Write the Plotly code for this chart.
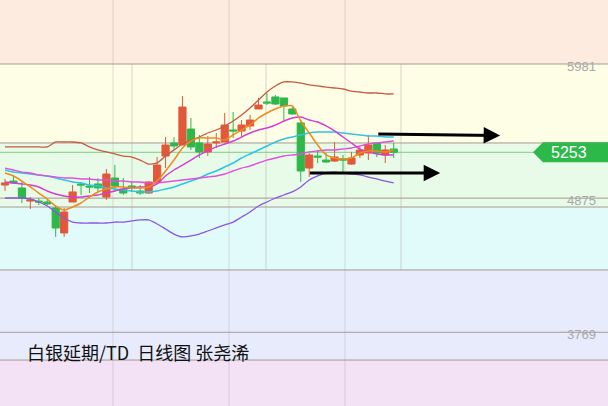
import plotly.graph_objects as go

# ---------------- data (daily candles, 白银延期/TD) ----------------
idx = list(range(47))
open_ = [4983, 5016, 4959, 4851, 4851, 4843, 4794, 4588, 4843, 4992, 4975, 4992, 4884, 5041, 4950, 4975, 4934, 4917, 5008, 5222,
         5330, 5313, 5445, 5330, 5256, 5330, 5338, 5437, 5429, 5470, 5610, 5668, 5709, 5701, 5610, 5495, 5123, 5222, 5189, 5181,
         5198, 5156, 5231, 5247, 5330, 5231, 5280]
high = [5033, 5066, 5008, 4884, 4876, 4868, 4818, 4794, 4983, 5008, 5049, 5041, 5115, 5148, 5041, 5008, 4983, 5016, 5214, 5379,
        5379, 5717, 5536, 5396, 5387, 5412, 5577, 5585, 5519, 5561, 5701, 5742, 5725, 5701, 5626, 5519, 5247, 5272, 5247, 5338,
        5231, 5256, 5297, 5396, 5338, 5313, 5330]
low = [4934, 4992, 4835, 4786, 4818, 4818, 4555, 4555, 4843, 4901, 4917, 4926, 4860, 4926, 4901, 4926, 4901, 4909, 5000, 5123,
       5272, 5313, 5272, 5206, 5222, 5288, 5338, 5371, 5379, 5437, 5610, 5643, 5643, 5519, 5561, 5008, 5049, 5165, 5165, 5173,
       5082, 5148, 5206, 5189, 5214, 5165, 5206]
close = [5000, 5000, 4876, 4860, 4843, 4827, 4629, 4761, 4926, 4983, 4967, 4959, 5074, 4975, 4917, 4967, 4917, 5008, 5148, 5313,
         5305, 5626, 5297, 5256, 5321, 5338, 5478, 5429, 5478, 5519, 5643, 5659, 5651, 5635, 5569, 5099, 5231, 5214, 5173, 5214,
         5189, 5206, 5272, 5313, 5247, 5272, 5253]

bb_up = [5297, 5297, 5297, 5297, 5297, 5297, 5338, 5338, 5338, 5330, 5297, 5272, 5256, 5239, 5222, 5214, 5189, 5156, 5165, 5222,
         5272, 5321, 5354, 5379, 5412, 5437, 5470, 5511, 5561, 5618, 5684, 5750, 5800, 5833, 5833, 5824, 5808, 5800, 5791, 5783,
         5775, 5758, 5750, 5742, 5742, 5734, 5734]
bb_mid = [5107, 5090, 5082, 5074, 5066, 5058, 5041, 5025, 5008, 5000, 4983, 4975, 4959, 4950, 4942, 4934, 4926, 4926, 4934, 4950,
          4967, 4992, 5016, 5041, 5074, 5099, 5132, 5165, 5206, 5239, 5272, 5305, 5338, 5363, 5379, 5396, 5412, 5420, 5420, 5420,
          5412, 5404, 5396, 5387, 5387, 5379, 5379]
bb_low = [4876, 4876, 4876, 4868, 4843, 4810, 4761, 4711, 4678, 4670, 4670, 4670, 4670, 4678, 4678, 4687, 4695, 4695, 4662, 4621,
          4579, 4555, 4563, 4579, 4604, 4629, 4654, 4678, 4719, 4761, 4810, 4843, 4876, 4901, 4926, 4967, 5025, 5058, 5082, 5090,
          5082, 5074, 5066, 5049, 5033, 5016, 5000]
ma5 = [5082, 5058, 5016, 4967, 4917, 4868, 4810, 4777, 4802, 4835, 4884, 4926, 4950, 4967, 4967, 4959, 4959, 4967, 5016, 5099,
       5189, 5288, 5346, 5371, 5371, 5371, 5354, 5396, 5437, 5478, 5536, 5577, 5610, 5635, 5635, 5511, 5412, 5313, 5231, 5206,
       5198, 5206, 5247, 5264, 5264, 5256, 5272]
ma10 = [5008, 5000, 4992, 4983, 4967, 4934, 4909, 4893, 4884, 4884, 4893, 4901, 4917, 4934, 4950, 4959, 4967, 4967, 4992, 5058,
        5107, 5148, 5189, 5231, 5264, 5297, 5321, 5346, 5379, 5412, 5437, 5453, 5478, 5511, 5536, 5544, 5519, 5503, 5470, 5429,
        5379, 5330, 5280, 5256, 5239, 5231, 5231]
ma20 = [5123, 5107, 5090, 5082, 5066, 5058, 5049, 5041, 5041, 5033, 5033, 5025, 5025, 5016, 5016, 5008, 5008, 5000, 5000, 5008,
        5016, 5025, 5033, 5041, 5049, 5058, 5074, 5099, 5123, 5140, 5165, 5189, 5206, 5222, 5231, 5239, 5256, 5264, 5272, 5272,
        5280, 5288, 5305, 5321, 5330, 5338, 5346]

axis_ticks = [5981, 4875, 3769]
last_price = 5253
band_edges = [6600, 5981, 5330, 4802, 4283, 3540, 3100]
grid_levels = [5981, 5330, 4875, 4802, 4283, 3769, 3540]
resist_level = [5404, 5392]     # upper arrow (start, end)
support_level = [5082, 5082]    # lower arrow
resist_x = [44, 58.6]
support_x = [35.9, 51.5]
title = "白银延期/TD  日线图 张尧浠"

RED = "#e2583a"
GREEN = "#2eb84a"
band_colors = ["#fdebdf", "#fefde6", "#e8fbe8", "#e1fbfb", "#e8ebfc", "#f3e1f6"]

fig = go.Figure()

fig.add_trace(go.Candlestick(
    x=idx, open=open_, high=high, low=low, close=close,
    increasing=dict(line=dict(color=RED, width=1), fillcolor=RED),
    decreasing=dict(line=dict(color=GREEN, width=1), fillcolor=GREEN),
    whiskerwidth=0, showlegend=False, hoverinfo="skip"))

line_specs = [
    (bb_up, "#c95a42", 1.3),
    (bb_low, "#8c55e0", 1.3),
    (bb_mid, "#2ec4e6", 1.5),
    (ma20, "#e050e0", 1.4),
    (ma10, "#d43cd4", 1.4),
    (ma5, "#f08a1c", 1.5),
]
for series, col, w in line_specs:
    fig.add_trace(go.Scatter(x=idx, y=series, mode="lines",
                             line=dict(color=col, width=w, shape="spline", smoothing=0.6),
                             showlegend=False, hoverinfo="skip"))

shapes = []
# background bands
for k, col in enumerate(band_colors):
    shapes.append(dict(type="rect", xref="paper", yref="y", x0=0, x1=1,
                       y0=band_edges[k + 1], y1=band_edges[k], fillcolor=col,
                       line=dict(width=0), layer="below"))
# vertical grid lines
for px in [113, 229, 345]:
    shapes.append(dict(type="line", xref="paper", yref="paper", x0=px / 608, x1=px / 608,
                       y0=0, y1=1, line=dict(color="rgba(170,160,150,0.35)", width=1), layer="below"))
for px in [132, 266, 401]:
    shapes.append(dict(type="line", xref="paper", yref="y", x0=px / 608, x1=px / 608,
                       y0=4283, y1=5981, line=dict(color="rgba(170,160,150,0.45)", width=1), layer="below"))
# horizontal grid lines
for lv in grid_levels:
    shapes.append(dict(type="line", xref="paper", yref="y", x0=0, x1=1, y0=lv, y1=lv,
                       line=dict(color="#a39a92", width=1), layer="below"))
# current price line
shapes.append(dict(type="line", xref="paper", yref="y", x0=0, x1=0.89, y0=last_price, y1=last_price,
                   line=dict(color="#7ccf7c", width=1), layer="below"))
# price tag
h = 82
x_tip, x_box = 533 / 608, 543 / 608
shapes.append(dict(type="path", xref="paper", yref="y",
                   path=f"M {x_tip},{last_price} L {x_box},{last_price + h} L 1,{last_price + h} "
                        f"L 1,{last_price - h} L {x_box},{last_price - h} Z",
                   fillcolor="#2db84a", line=dict(width=0)))

annotations = []
for t in axis_ticks:
    annotations.append(dict(xref="paper", yref="y", x=598 / 608, y=t, text=str(t), showarrow=False,
                            xanchor="right", yanchor="middle", yshift=-2,
                            font=dict(family="Liberation Sans, Arial", size=13, color="#a8a8a8")))
annotations.append(dict(xref="paper", yref="y", x=569 / 608, y=last_price, text=str(last_price), showarrow=False,
                        xanchor="center", yanchor="middle",
                        font=dict(family="Liberation Sans, Arial", size=16, color="white")))
for xs, ys in [(resist_x, resist_level), (support_x, support_level)]:
    annotations.append(dict(x=xs[1], y=ys[1], ax=xs[0], ay=ys[0], xref="x", yref="y", axref="x", ayref="y",
                            text="", showarrow=True, arrowhead=2, arrowsize=1.1, arrowwidth=3,
                            arrowcolor="#000000", standoff=0))
annotations.append(dict(xref="paper", yref="paper", x=25 / 608, y=1 - 352 / 406, text=title, showarrow=False,
                        xanchor="left", yanchor="middle",
                        font=dict(family="Noto Sans CJK SC", size=18, color="#111111")))

fig.update_layout(
    width=608, height=406, margin=dict(l=0, r=0, t=0, b=0),
    paper_bgcolor="#f3e1f6", plot_bgcolor="#fefde6",
    boxgap=0.15, boxgroupgap=0,
    shapes=shapes, annotations=annotations, showlegend=False,
    xaxis=dict(range=[-0.592, 71.36], visible=False, rangeslider=dict(visible=False), fixedrange=True),
    yaxis=dict(range=[3161.2, 6508.7], visible=False, fixedrange=True),
)

fig.write_html("out.html", config={"displayModeBar": False})

# remove the browser's default page margin so the chart fills the window exactly
with open("out.html", "r", encoding="utf-8") as f:
    html = f.read()
html = html.replace("<head>", "<head><style>html,body{margin:0;padding:0;overflow:hidden;}</style>", 1)
with open("out.html", "w", encoding="utf-8") as f:
    f.write(html)
